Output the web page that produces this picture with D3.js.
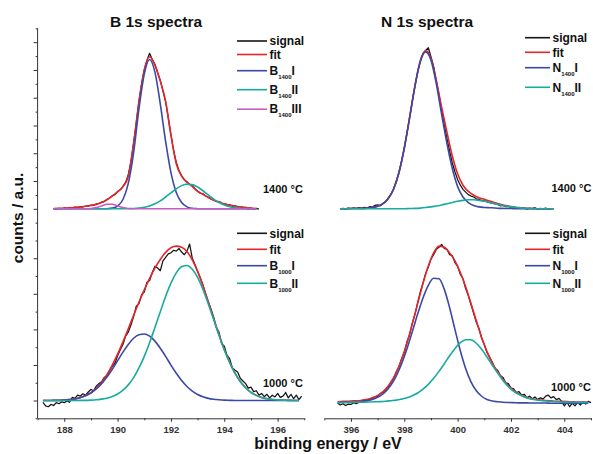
<!DOCTYPE html>
<html lang="en">
<head>
  <meta charset="UTF-8">
  <title>B 1s / N 1s XPS spectra</title>
  <script src="https://d3js.org/d3.v7.min.js"></script>
  <style>
    body { margin: 0; background: #fff; }
    svg { display: block; font-family: "Liberation Sans", Arial, sans-serif; }
    .axis path, .axis line { stroke: #333; stroke-width: 1; }
    .axis text { font-size: 9.5px; font-weight: bold; fill: #333; }
    .curve { fill: none; stroke-linejoin: round; }
    .lbl { font-weight: bold; fill: #111; }
  </style>
</head>
<body>
  <svg width="593" height="454"></svg>

  <script>
    // sampling of the spectra (eV): fits/components every 0.2, signal every 0.1
    const fitStep = 0.2, sigStep = 0.1;

    // ---- B 1s, 1400 °C (start 187.6 eV) ----
    const b1400Start = 187.6;
    const b1400Fit = [0.02,0.03,0.05,0.07,0.10,0.13,0.18,0.24,0.32,0.45,
      0.65,0.92,1.22,1.58,2.35,4.70,7.70,10.0,10.95,10.35,
      9.20,7.75,5.30,3.25,2.35,1.90,1.62,1.25,1.05,0.82,
      0.62,0.50,0.36,0.27,0.20,0.14,0.09,0.05,0.02];
    const b1400I = [0,0,0,0,0,0,0,0,0,0,
      0.01,0.05,0.20,0.67,1.83,4.05,7.20,9.70,10.75,9.84,
      7.55,4.85,2.61,1.18,0.45,0.14,0.04,0.01,0,0,
      0,0,0,0,0,0,0,0,0];
    const b1400II = [0,0,0,0,0,0,0,0,0,0,
      0,0,0,0,0.01,0.02,0.05,0.11,0.20,0.36,
      0.57,0.85,1.15,1.44,1.67,1.77,1.74,1.57,1.30,1.00,
      0.70,0.45,0.27,0.15,0.08,0.04,0.02,0.01,0];
    const b1400III = [0,0,0,0,0,0,0,0.02,0.09,0.21,
      0.33,0.33,0.21,0.09,0.02,0,0,0,0,0,
      0,0,0,0,0,0,0,0,0,0,
      0,0,0,0,0,0,0,0,0];
    const b1400Signal = [0.02,-0.04,0.04,0.01,0.06,0.02,0.09,0.06,0.12,0.10,
      0.15,0.13,0.20,0.19,0.27,0.25,0.35,0.40,0.48,0.52,
      0.68,0.78,0.95,1.02,1.25,1.38,1.62,1.90,2.45,3.40,
      4.75,6.20,7.75,9.00,10.00,10.70,11.20,10.75,10.40,9.80,
      9.25,8.50,7.70,6.55,5.35,4.20,3.35,2.75,2.40,2.10,
      1.95,1.75,1.66,1.45,1.28,1.12,1.08,0.92,0.84,0.70,
      0.65,0.52,0.52,0.40,0.38,0.28,0.30,0.18,0.22,0.12,
      0.15,0.05,0.10,-0.03,0.06,-0.04,0.03,-0.02];

    // ---- B 1s, 1000 °C (start 187.2 eV) ----
    const b1000Start = 187.2;
    const b1000Fit = [0.00,0.00,0.01,0.01,0.03,0.05,0.09,0.17,0.28,0.44,
      0.69,1.03,1.45,1.99,2.61,3.30,4.03,4.79,5.53,6.22,
      6.87,7.45,7.93,8.33,8.59,8.68,8.62,8.38,7.91,7.26,
      6.45,5.55,4.62,3.71,2.87,2.15,1.54,1.07,0.72,0.46,
      0.29,0.17,0.10,0.06,0.03,0.02,0.01,0.00,0.00];
    const b1000I = [0.00,0.00,0.01,0.01,0.03,0.05,0.09,0.16,0.27,0.42,
      0.65,0.95,1.32,1.76,2.24,2.72,3.15,3.50,3.70,3.74,
      3.62,3.34,2.94,2.48,1.99,1.53,1.12,0.79,0.53,0.34,
      0.21,0.12,0.07,0.04,0.02,0.01,0,0,0,0,
      0,0,0,0,0,0,0,0,0];
    const b1000II = [0,0,0,0,0,0,0,0.01,0.01,0.02,
      0.04,0.08,0.13,0.23,0.37,0.58,0.88,1.29,1.83,2.48,
      3.25,4.11,4.99,5.85,6.60,7.18,7.52,7.59,7.38,6.92,
      6.24,5.43,4.55,3.67,2.85,2.14,1.54,1.07,0.72,0.46,
      0.29,0.17,0.10,0.06,0.03,0.02,0.01,0,0];
    const b1000Signal = [-0.10,-0.30,-0.35,-0.22,-0.28,-0.12,-0.18,-0.08,-0.12,-0.02,
      -0.10,0.18,0.12,0.30,0.25,0.38,0.30,0.48,0.62,0.55,
      0.82,0.95,1.05,1.30,1.38,1.70,1.92,2.10,2.52,2.85,
      3.15,3.62,3.85,4.25,4.72,5.30,5.45,5.95,6.10,6.65,
      6.75,7.20,7.55,7.45,7.30,7.85,8.05,8.25,8.30,8.45,
      8.40,8.55,8.35,8.20,8.40,8.80,8.00,7.65,7.25,6.90,
      6.50,6.00,5.55,5.15,4.70,4.10,3.85,3.20,3.05,2.55,
      2.35,1.85,1.70,1.60,1.25,1.10,0.95,0.70,0.75,0.50,
      0.55,0.30,0.40,0.22,0.35,0.15,0.30,0.20,0.40,0.18,
      0.25,0.45,0.15,0.35,0.10,0.30,0.05,0.25];

    // ---- N 1s, 1400 °C (start 395.6 eV) ----
    const n1400Start = 395.6;
    const n1400Fit = [0.01,0.01,0.02,0.02,0.03,0.05,0.09,0.18,0.37,0.74,
      1.43,2.62,4.38,6.59,8.87,10.67,11.39,10.84,9.25,7.30,
      5.50,3.80,2.50,1.70,1.25,0.98,0.80,0.68,0.56,0.44,
      0.33,0.23,0.16,0.10,0.06,0.03,0.02,0.01,0.01,0,0];
    const n1400I = [0.01,0.01,0.02,0.02,0.03,0.05,0.09,0.18,0.37,0.74,
      1.43,2.62,4.37,6.57,8.84,10.62,11.30,10.70,9.00,6.80,
      4.70,2.90,1.60,0.85,0.45,0.24,0.14,0.10,0.08,0.06,
      0.03,0.02,0.02,0.01,0.01,0,0,0,0,0,0];
    const n1400II = [0,0,0,0,0,0,0,0,0,0,
      0,0,0.01,0.02,0.03,0.05,0.09,0.14,0.20,0.28,
      0.37,0.46,0.55,0.61,0.65,0.65,0.61,0.55,0.46,0.37,
      0.28,0.20,0.14,0.09,0.05,0.03,0.02,0.01,0,0,0];
    const n1400Signal = [0.00,0.04,-0.02,0.05,0.02,0.06,0.03,0.08,0.05,0.10,
      0.07,0.15,0.12,0.25,0.28,0.22,0.38,0.52,0.78,1.05,
      1.45,1.98,2.62,3.45,4.40,5.45,6.60,7.75,8.85,9.85,
      10.60,11.15,11.40,11.60,10.95,10.25,9.20,8.20,7.15,6.05,
      5.05,4.15,3.30,2.65,2.10,1.70,1.40,1.20,1.02,0.92,
      0.85,0.72,0.68,0.60,0.58,0.50,0.45,0.40,0.35,0.32,
      0.22,0.25,0.15,0.18,0.10,0.14,0.05,0.10,0.02,0.06,
      -0.02,0.05,0.01,0.08,-0.03,0.04,0.00,0.05,-0.02,0.02];

    // ---- N 1s, 1000 °C (start 395.5 eV) ----
    const n1000Start = 395.5;
    const n1000Fit = [-0.07,-0.05,-0.04,-0.02,-0.01,0.04,0.10,0.21,0.37,0.64,
      1.03,1.58,2.32,3.23,4.31,5.45,6.58,7.56,8.30,8.68,
      8.62,8.30,7.85,7.20,6.40,5.45,4.48,3.55,2.75,2.10,
      1.62,1.18,0.83,0.57,0.37,0.23,0.13,0.07,0.03,0.00,
      -0.02,-0.04,-0.05,-0.06,-0.07,-0.08,-0.08,-0.09];
    const n1000I = [-0.12,-0.11,-0.10,-0.09,-0.08,-0.04,0.01,0.11,0.26,0.51,
      0.87,1.39,2.07,2.91,3.87,4.86,5.77,6.48,6.88,6.85,
      6.25,5.22,3.99,2.80,1.80,1.05,0.55,0.24,0.06,-0.03,
      -0.07,-0.10,-0.11,-0.12,-0.13,-0.13,-0.14,-0.14,-0.14,-0.14,
      -0.15,-0.15,-0.15,-0.15,-0.15,-0.15,-0.15,-0.15];
    const n1000II = [-0.12,-0.11,-0.11,-0.10,-0.10,-0.09,-0.08,-0.07,-0.06,-0.04,
      -0.01,0.02,0.08,0.15,0.27,0.42,0.64,0.91,1.25,1.64,
      2.07,2.52,2.93,3.25,3.42,3.42,3.22,2.88,2.45,1.98,
      1.55,1.12,0.78,0.52,0.34,0.20,0.10,0.04,0.00,-0.03,
      -0.05,-0.07,-0.08,-0.09,-0.10,-0.10,-0.11,-0.11];
    const n1000Signal = [-0.15,-0.25,-0.18,-0.28,-0.20,-0.22,-0.12,-0.18,-0.10,-0.05,
      0.02,-0.02,0.08,0.12,0.20,0.22,0.40,0.45,0.62,0.78,
      1.05,1.25,1.62,1.90,2.35,2.70,3.30,3.70,4.35,4.85,
      5.50,6.10,6.60,7.15,7.50,7.95,8.20,8.50,8.62,8.78,
      8.55,8.50,8.20,8.15,7.75,7.55,7.10,6.85,6.30,5.90,
      5.40,4.90,4.40,4.05,3.50,3.15,2.70,2.45,2.15,1.80,
      1.70,1.40,1.30,1.00,0.95,0.70,0.65,0.45,0.50,0.30,
      0.35,0.15,0.25,0.10,0.20,0.05,0.15,0.08,0.25,0.30,
      0.15,0.22,0.05,0.12,-0.05,-0.30,-0.10,-0.35,-0.15,-0.30,
      -0.10,-0.25,-0.08,-0.20,-0.05,-0.12];

    // axis ticks
    const bTicksMajor = [188, 190, 192, 194, 196];
    const bTicksMinor = [187, 189, 191, 193, 195, 197];
    const nTicksMajor = [396, 398, 400, 402, 404];
    const nTicksMinor = [395, 397, 399, 401, 403, 405];
    const yTopMajor = [0, 2, 4, 6, 8, 10, 12];
    const yTopMinor = [-1, 1, 3, 5, 7, 9, 11, 13];
    const yBotMajor = [0, 2, 4, 6, 8];
    const yBotMinor = [-1, 1, 3, 5, 7, 9];

    const color = {signal: "#151515", fit: "#e5252b", I: "#3b49a6", II: "#17ab9f", III: "#c95cc0"};

    const svg = d3.select("svg");

    const xB = d3.scaleLinear().domain([187, 197]).range([37.6, 304.3]);
    const xN = d3.scaleLinear().domain([395, 405]).range([324.3, 591]);
    const yTop = d3.scaleLinear().domain([-1, 13]).range([222.7, 28.3]);
    const yBot = d3.scaleLinear().domain([-1, 10]).range([418.3, 222.7]);

    const pts = (start, step, values) =>
      values.map((v, i) => ({e: Math.round((start + i * step) * 100) / 100, v}));

    const panels = [
      {x: xB, y: yTop, start: b1400Start, signal: b1400Signal, fit: b1400Fit,
       comps: [["I", b1400I], ["II", b1400II], ["III", b1400III]],
       el: "B", sub: "1400", lx: 237, rows: [41, 54.5, 70.7, 89.7, 109.2],
       temp: "1400 °C", tx: 263, ty: 192.5},
      {x: xB, y: yBot, start: b1000Start, signal: b1000Signal, fit: b1000Fit,
       comps: [["I", b1000I], ["II", b1000II]],
       el: "B", sub: "1000", lx: 237, rows: [233.3, 249.3, 265.7, 283.3],
       temp: "1000 °C", tx: 263, ty: 387},
      {x: xN, y: yTop, start: n1400Start, signal: n1400Signal, fit: n1400Fit,
       comps: [["I", n1400I], ["II", n1400II]],
       el: "N", sub: "1400", lx: 525, rows: [37.7, 52.3, 67.7, 87.3],
       temp: "1400 °C", tx: 551.5, ty: 191.7},
      {x: xN, y: yBot, start: n1000Start, signal: n1000Signal, fit: n1000Fit,
       comps: [["I", n1000I], ["II", n1000II]],
       el: "N", sub: "1000", lx: 525, rows: [233.3, 249.3, 265.7, 283.3],
       temp: "1000 °C", tx: 551, ty: 390.5}
    ];

    panels.forEach(p => {
      const smooth = d3.line().x(d => p.x(d.e)).y(d => p.y(d.v)).curve(d3.curveMonotoneX);
      const raw = d3.line().x(d => p.x(d.e)).y(d => p.y(d.v));

      svg.append("path").attr("class", "curve")
        .attr("d", raw(pts(p.start, sigStep, p.signal)))
        .attr("stroke", color.signal).attr("stroke-width", 1.25);
      svg.append("path").attr("class", "curve")
        .attr("d", smooth(pts(p.start, fitStep, p.fit)))
        .attr("stroke", color.fit).attr("stroke-width", 1.6);
      p.comps.forEach(([k, vals]) => {
        svg.append("path").attr("class", "curve")
          .attr("d", smooth(pts(p.start, fitStep, vals)))
          .attr("stroke", color[k]).attr("stroke-width", 1.6);
      });

      // legend
      const entries = [["signal"], ["fit"]].concat(p.comps.map(([k]) => [p.el, p.sub, k]));
      const keys = ["signal", "fit"].concat(p.comps.map(([k]) => k));
      const lineLen = p.el === "B" ? 30 : 25;
      entries.forEach((ent, i) => {
        const yy = p.rows[i];
        svg.append("line")
          .attr("x1", p.lx).attr("x2", p.lx + lineLen)
          .attr("y1", yy).attr("y2", yy)
          .attr("stroke", color[keys[i]]).attr("stroke-width", 1.6);
        const t = svg.append("text").attr("class", "lbl")
          .attr("x", p.lx + lineLen + 2.5).attr("y", yy + 4.2)
          .style("font-size", "12px");
        if (ent.length === 1) {
          t.text(ent[0]);
        } else {
          t.append("tspan").text(ent[0]);
          t.append("tspan").attr("dy", 4).style("font-size", "6px").text(ent[1]);
          t.append("tspan").attr("dy", -4).text(ent[2]);
        }
      });

      svg.append("text").attr("class", "lbl")
        .attr("x", p.tx).attr("y", p.ty)
        .style("font-size", "11px")
        .text(p.temp);
    });

    // x axes
    const xAxis = (scale, major, minor) => {
      svg.append("g").attr("class", "axis")
        .attr("transform", `translate(0,${yBot(-1)})`)
        .call(d3.axisBottom(scale).tickValues(minor).tickSize(2).tickSizeOuter(0).tickFormat(""));
      svg.append("g").attr("class", "axis")
        .attr("transform", `translate(0,${yBot(-1)})`)
        .call(d3.axisBottom(scale).tickValues(major).tickSize(3.5).tickSizeOuter(0).tickPadding(4.5)
          .tickFormat(d3.format("d")))
        .call(g => g.select(".domain").remove());
    };
    xAxis(xB, bTicksMajor, bTicksMinor);
    xAxis(xN, nTicksMajor, nTicksMinor);

    // shared left axis
    const x0 = xB(187);
    [[yTop, yTopMajor, yTopMinor], [yBot, yBotMajor, yBotMinor]].forEach(([sc, major, minor]) => {
      svg.append("g").attr("class", "axis").attr("transform", `translate(${x0},0)`)
        .call(d3.axisLeft(sc).tickValues(major).tickSize(4).tickFormat(""))
        .call(g => g.select(".domain").remove());
      svg.append("g").attr("class", "axis").attr("transform", `translate(${x0},0)`)
        .call(d3.axisLeft(sc).tickValues(minor).tickSize(2).tickFormat(""))
        .call(g => g.select(".domain").remove());
    });
    svg.append("line")
      .attr("x1", x0).attr("x2", x0)
      .attr("y1", yTop(13)).attr("y2", yBot(-1))
      .attr("stroke", "#333");

    // titles
    svg.append("text").attr("class", "lbl")
      .attr("x", 156).attr("y", 27).attr("text-anchor", "middle")
      .style("font-size", "15.5px").text("B 1s spectra");
    svg.append("text").attr("class", "lbl")
      .attr("x", 427).attr("y", 27).attr("text-anchor", "middle")
      .style("font-size", "15.5px").text("N 1s spectra");

    svg.append("text").attr("class", "lbl")
      .attr("transform", "translate(23,218) rotate(-90)")
      .attr("text-anchor", "middle")
      .style("font-size", "15.5px").text("counts / a.u.");
    svg.append("text").attr("class", "lbl")
      .attr("x", 328).attr("y", 449).attr("text-anchor", "middle")
      .style("font-size", "16px").text("binding energy / eV");
  </script>
</body>
</html>
